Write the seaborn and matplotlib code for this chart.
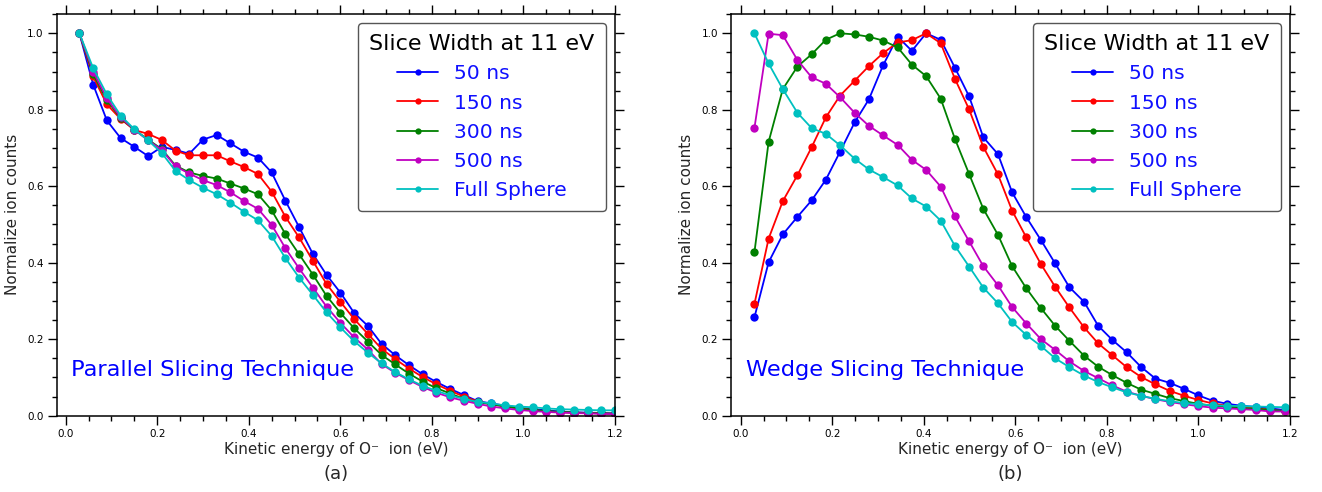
import matplotlib
matplotlib.use("Agg")
import matplotlib.pyplot as plt
from matplotlib.lines import Line2D
from matplotlib.ticker import MultipleLocator
import seaborn as sns
import pandas as pd

# ---------------- data ----------------
series_names = ["50 ns", "150 ns", "300 ns", "500 ns", "Full Sphere"]
series_colors = ["#0000FF", "#FF0000", "#008000", "#C000C0", "#00C0C0"]

# (a) Parallel slicing
x_par = [0.03, 0.06, 0.09, 0.12, 0.15, 0.18, 0.21, 0.24, 0.27, 0.30,
         0.33, 0.36, 0.39, 0.42, 0.45, 0.48, 0.51, 0.54, 0.57, 0.60,
         0.63, 0.66, 0.69, 0.72, 0.75, 0.78, 0.81, 0.84, 0.87, 0.90,
         0.93, 0.96, 0.99, 1.02, 1.05, 1.08, 1.11, 1.14, 1.17, 1.20]
par_50 = [1.0, 0.866, 0.772, 0.726, 0.703, 0.679, 0.703, 0.695, 0.685, 0.722,
          0.734, 0.712, 0.690, 0.675, 0.636, 0.562, 0.493, 0.423, 0.368, 0.322,
          0.269, 0.235, 0.188, 0.158, 0.132, 0.108, 0.088, 0.070, 0.054, 0.038,
          0.032, 0.026, 0.021, 0.017, 0.014, 0.011, 0.009, 0.008, 0.007, 0.006]
par_150 = [1.0, 0.887, 0.814, 0.776, 0.747, 0.737, 0.721, 0.693, 0.681, 0.681,
           0.681, 0.665, 0.650, 0.632, 0.586, 0.520, 0.466, 0.405, 0.344, 0.298,
           0.253, 0.214, 0.175, 0.148, 0.123, 0.101, 0.082, 0.065, 0.050, 0.037,
           0.030, 0.024, 0.019, 0.015, 0.011, 0.009, 0.008, 0.007, 0.006, 0.005]
par_300 = [1.0, 0.893, 0.825, 0.778, 0.748, 0.722, 0.697, 0.654, 0.636, 0.627,
           0.620, 0.607, 0.594, 0.579, 0.537, 0.475, 0.422, 0.369, 0.313, 0.269,
           0.229, 0.194, 0.159, 0.134, 0.110, 0.089, 0.072, 0.058, 0.044, 0.035,
           0.030, 0.024, 0.019, 0.015, 0.012, 0.010, 0.008, 0.007, 0.006, 0.005]
par_500 = [1.0, 0.900, 0.830, 0.780, 0.748, 0.720, 0.695, 0.652, 0.633, 0.616,
           0.603, 0.584, 0.561, 0.541, 0.499, 0.438, 0.385, 0.335, 0.285, 0.243,
           0.205, 0.173, 0.135, 0.112, 0.093, 0.075, 0.060, 0.048, 0.039, 0.031,
           0.024, 0.019, 0.015, 0.012, 0.010, 0.008, 0.007, 0.006, 0.005, 0.004]
par_full = [1.0, 0.909, 0.840, 0.785, 0.749, 0.720, 0.687, 0.640, 0.616, 0.596,
            0.579, 0.557, 0.533, 0.511, 0.470, 0.412, 0.361, 0.316, 0.270, 0.231,
            0.195, 0.165, 0.137, 0.114, 0.095, 0.078, 0.065, 0.053, 0.044, 0.036,
            0.032, 0.027, 0.024, 0.022, 0.019, 0.017, 0.016, 0.015, 0.014, 0.014]

# (b) Wedge slicing
x_wed = [0.030, 0.061, 0.092, 0.124, 0.155, 0.186, 0.217, 0.249, 0.280, 0.311,
         0.343, 0.374, 0.405, 0.437, 0.468, 0.499, 0.530, 0.562, 0.593, 0.624,
         0.656, 0.687, 0.718, 0.750, 0.781, 0.812, 0.843, 0.875, 0.906, 0.937,
         0.969, 1.000, 1.031, 1.063, 1.094, 1.125, 1.156, 1.188]
wed_50 = [0.257, 0.401, 0.474, 0.520, 0.563, 0.617, 0.690, 0.767, 0.827, 0.916,
          0.991, 0.954, 1.0, 0.983, 0.910, 0.835, 0.728, 0.684, 0.584, 0.519,
          0.459, 0.398, 0.336, 0.298, 0.235, 0.198, 0.166, 0.127, 0.097, 0.086,
          0.070, 0.053, 0.039, 0.031, 0.026, 0.023, 0.019, 0.015]
wed_150 = [0.292, 0.463, 0.561, 0.629, 0.702, 0.780, 0.837, 0.876, 0.914, 0.948,
           0.976, 0.982, 1.0, 0.974, 0.881, 0.801, 0.703, 0.631, 0.536, 0.466,
           0.396, 0.337, 0.283, 0.231, 0.189, 0.158, 0.127, 0.101, 0.082, 0.065,
           0.052, 0.041, 0.032, 0.026, 0.023, 0.020, 0.015, 0.012]
wed_300 = [0.427, 0.716, 0.854, 0.913, 0.945, 0.983, 1.0, 0.997, 0.991, 0.981,
           0.963, 0.918, 0.888, 0.829, 0.724, 0.632, 0.541, 0.473, 0.391, 0.333,
           0.281, 0.235, 0.196, 0.157, 0.128, 0.106, 0.086, 0.068, 0.057, 0.046,
           0.038, 0.031, 0.026, 0.024, 0.020, 0.018, 0.015, 0.012]
wed_500 = [0.752, 0.999, 0.995, 0.930, 0.885, 0.868, 0.833, 0.792, 0.758, 0.733,
           0.708, 0.669, 0.643, 0.599, 0.521, 0.456, 0.391, 0.341, 0.284, 0.241,
           0.200, 0.172, 0.142, 0.117, 0.098, 0.079, 0.063, 0.052, 0.043, 0.036,
           0.030, 0.025, 0.021, 0.019, 0.017, 0.015, 0.011, 0.011]
wed_full = [1.0, 0.921, 0.854, 0.792, 0.752, 0.737, 0.707, 0.672, 0.644, 0.624,
            0.602, 0.568, 0.547, 0.510, 0.444, 0.390, 0.335, 0.294, 0.245, 0.211,
            0.182, 0.150, 0.127, 0.105, 0.088, 0.074, 0.061, 0.052, 0.044, 0.038,
            0.033, 0.030, 0.027, 0.026, 0.025, 0.024, 0.023, 0.022]

panel_texts = ["Parallel Slicing Technique", "Wedge Slicing Technique"]
panel_tags = ["(a)", "(b)"]
legend_title = "Slice Width at 11 eV"
x_label = "Kinetic energy of O\u207b  ion (eV)"
y_label = "Normalize ion counts"


def long_frame(x, ys):
    rows = []
    for name, vals in zip(series_names, ys):
        for xi, yi in zip(x, vals):
            rows.append({"energy": xi, "counts": yi, "width": name})
    return pd.DataFrame(rows)


df_par = long_frame(x_par, [par_50, par_150, par_300, par_500, par_full])
df_wed = long_frame(x_wed, [wed_50, wed_150, wed_300, wed_500, wed_full])

# ---------------- style ----------------
sns.set_style("ticks")
plt.rcParams["font.family"] = ["DejaVu Sans"]

fig = plt.figure(figsize=(13.22, 4.92), dpi=100)
ax_a = fig.add_axes([0.0431, 0.1551, 0.4221, 0.8165])
ax_b = fig.add_axes([0.5530, 0.1551, 0.4228, 0.8165])

palette = dict(zip(series_names, series_colors))

for ax, df, xmin, txt, tag in [(ax_a, df_par, -0.019, panel_texts[0], panel_tags[0]),
                               (ax_b, df_wed, -0.021, panel_texts[1], panel_tags[1])]:
    sns.lineplot(data=df, x="energy", y="counts", hue="width",
                 hue_order=series_names, palette=palette, marker="o",
                 markersize=6, markeredgewidth=0, linewidth=1.3,
                 errorbar=None, legend=False, ax=ax)
    ax.set_xlim(xmin, 1.2)
    ax.set_ylim(0, 1.0505)
    ax.xaxis.set_major_locator(MultipleLocator(0.2))
    ax.xaxis.set_minor_locator(MultipleLocator(0.05))
    ax.yaxis.set_major_locator(MultipleLocator(0.2))
    ax.yaxis.set_minor_locator(MultipleLocator(0.05))
    ax.tick_params(which="both", direction="out", top=True, right=True,
                   labeltop=False, labelright=False, width=1.0, colors="black",
                   labelsize=7.5, pad=3)
    ax.tick_params(which="major", length=6.5)
    ax.tick_params(which="minor", length=3.5)
    for sp in ax.spines.values():
        sp.set_visible(True)
        sp.set_linewidth(1.1)
        sp.set_color("black")
    ax.set_xlabel(x_label, fontsize=11, labelpad=2)
    ax.set_ylabel(y_label, fontsize=11, labelpad=5)
    ax.text(0.012, 0.12, txt, color="#0000FF", fontsize=16.2,
            ha="left", va="center")
    ax.text(0.5, -0.145, tag, transform=ax.transAxes, fontsize=13,
            ha="center", va="center")

    handles = [Line2D([0], [0], color=c, marker="o", markersize=4.5,
                      markeredgewidth=0, linewidth=1.3) for c in series_colors]
    leg = ax.legend(handles, series_names, title=legend_title,
                    loc="upper right", fontsize=14.6, title_fontsize=16,
                    frameon=True, fancybox=True, borderaxespad=0.45,
                    handlelength=2.0, labelspacing=0.5, borderpad=0.55,
                    handletextpad=0.8)
    frame = leg.get_frame()
    frame.set_edgecolor("#555555")
    frame.set_linewidth(1.0)
    frame.set_alpha(1.0)
    leg.get_title().set_color("black")
    for t in leg.get_texts():
        t.set_color("#1010FF")

fig.savefig("out.png", dpi=100)
